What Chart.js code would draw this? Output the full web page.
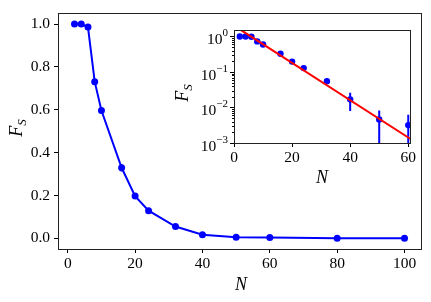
<!DOCTYPE html>
<html lang="en">
<head>
    <meta charset="UTF-8">
    <title>F_S vs N</title>
    <script src="https://cdn.jsdelivr.net/npm/chart.js"></script>
    <style>
        body { margin: 0; background: #fff; }
        .wrap { position: relative; width: 431px; height: 302px; }
        #mainChart { position: absolute; left: 0; top: 0; }
        #insetChart { position: absolute; left: 170px; top: 18px; }
    </style>
</head>
<body>
    <div class="wrap">
        <canvas id="mainChart" width="431" height="302"></canvas>
        <canvas id="insetChart" width="250" height="180"></canvas>
    </div>

    <script>
        // data
        const sizes = [2, 4, 6, 8, 10, 16, 20, 24, 32, 40, 50, 60, 80, 100];
        const fs = [1.0, 1.0, 0.986, 0.731, 0.596, 0.329, 0.197, 0.129, 0.055, 0.017, 0.0046, 0.0032, 0.0006, 0.0002];
        const fsErr = [0, 0, 0.004, 0.008, 0.012, 0.017, 0.008, 0.006, 0.004, 0.009, 0.0036, 0.0031, 0.0004, 0.0001];

        // exponential fit shown in the inset (end points)
        const fitN = [2, 62];
        const fitF = [1.6, 0.00112];

        const xTicks = [0, 20, 40, 60, 80, 100];
        const yTicks = [0, 0.2, 0.4, 0.6, 0.8, 1.0];
        const insetXTicks = [0, 20, 40, 60];
        const insetYTicks = [0.001, 0.01, 0.1, 1];

        const FONT = '"Liberation Serif", serif';
        Chart.defaults.font.family = FONT;
        Chart.defaults.font.size = 15.5;
        Chart.defaults.color = '#000';
        const tickFont = { family: FONT, size: 15.5 };

        function drawLabel(ctx, x, y, main, sub, size, rotate) {
            ctx.save();
            ctx.translate(x, y);
            if (rotate) ctx.rotate(-Math.PI / 2);
            const mf = `italic ${size}px ${FONT}`;
            const sf = `italic ${Math.round(size * 0.7)}px ${FONT}`;
            ctx.font = mf;
            const w1 = ctx.measureText(main).width;
            ctx.font = sf;
            const w2 = sub ? ctx.measureText(sub).width : 0;
            const x0 = -(w1 + w2) / 2;
            const base = size * 0.33;
            ctx.fillStyle = '#000';
            ctx.textBaseline = 'alphabetic';
            ctx.textAlign = 'left';
            ctx.font = mf;
            ctx.fillText(main, x0, base);
            if (sub) {
                ctx.font = sf;
                ctx.fillText(sub, x0 + w1, base + size * 0.22);
            }
            ctx.restore();
        }

        // frame on all four sides, like the original axes
        const framePlugin = {
            id: 'frame',
            afterDraw(chart) {
                const a = chart.chartArea, ctx = chart.ctx;
                ctx.save();
                ctx.strokeStyle = '#222';
                ctx.lineWidth = 1;
                ctx.strokeRect(Math.round(a.left) + 0.5, Math.round(a.top) + 0.5,
                    Math.round(a.right - a.left), Math.round(a.bottom - a.top));
                ctx.restore();
            }
        };

        // vertical error bars from fsErr
        const errorBarPlugin = {
            id: 'errorBars',
            beforeDatasetsDraw(chart) {
                const xs = chart.scales.x, ys = chart.scales.y, ctx = chart.ctx, a = chart.chartArea;
                const isLog = ys.type === 'logarithmic';
                ctx.save();
                ctx.beginPath();
                ctx.rect(a.left, a.top, a.right - a.left, a.bottom - a.top);
                ctx.clip();
                ctx.strokeStyle = '#0000ff';
                ctx.lineWidth = 2;
                sizes.forEach((n, i) => {
                    if (!fsErr[i]) return;
                    const lo = fs[i] - fsErr[i], hi = fs[i] + fsErr[i];
                    const px = xs.getPixelForValue(n);
                    const py1 = ys.getPixelForValue(hi);
                    const py2 = (isLog && lo <= 0) ? a.bottom + 5 : ys.getPixelForValue(lo);
                    ctx.beginPath();
                    ctx.moveTo(px, py1);
                    ctx.lineTo(px, py2);
                    ctx.stroke();
                });
                ctx.restore();
            }
        };

        const mainLabels = {
            id: 'mainLabels',
            afterDraw(chart) {
                drawLabel(chart.ctx, 16, 128, 'F', 'S', 18, true);
                drawLabel(chart.ctx, 241, 284, 'N', '', 18, false);
            }
        };

        const insetLabels = {
            id: 'insetLabels',
            afterDraw(chart) {
                const ctx = chart.ctx, ys = chart.scales.y, a = chart.chartArea;
                // minor log ticks
                ctx.save();
                ctx.strokeStyle = '#000';
                ctx.lineWidth = 1;
                for (let k = -3; k <= 0; k++) {
                    for (let m = 2; m <= 9; m++) {
                        const v = m * Math.pow(10, k);
                        if (v > ys.max) continue;
                        const py = Math.round(ys.getPixelForValue(v)) + 0.5;
                        ctx.beginPath();
                        ctx.moveTo(a.left - 2, py);
                        ctx.lineTo(a.left, py);
                        ctx.stroke();
                    }
                }
                // 10^k labels
                ctx.fillStyle = '#000';
                ctx.textBaseline = 'alphabetic';
                ctx.textAlign = 'left';
                insetYTicks.forEach(v => {
                    const e = Math.round(Math.log10(v));
                    const es = e < 0 ? '\u2212' + (-e) : String(e);
                    const py = ys.getPixelForValue(v);
                    ctx.font = `15.5px ${FONT}`;
                    const w1 = ctx.measureText('10').width;
                    ctx.font = `11px ${FONT}`;
                    const w2 = ctx.measureText(es).width;
                    const right = a.left - 6;
                    ctx.font = `15.5px ${FONT}`;
                    ctx.fillText('10', right - w1 - w2, py + 7.5);
                    ctx.font = `11px ${FONT}`;
                    ctx.fillText(es, right - w2, py - 0.5);
                });
                ctx.restore();
                drawLabel(ctx, 12, 75, 'F', 'S', 18, true);
                drawLabel(ctx, (a.left + a.right) / 2, 159, 'N', '', 18, false);
            }
        };

        const tickGrid = { drawOnChartArea: false, drawTicks: true, tickLength: 4, color: '#000', lineWidth: 1 };

        new Chart(document.getElementById('mainChart'), {
            type: 'line',
            data: {
                datasets: [{
                    data: sizes.map((n, i) => ({ x: n, y: fs[i] })),
                    borderColor: '#0000ff',
                    backgroundColor: '#0000ff',
                    borderWidth: 2,
                    pointRadius: 3.5,
                    pointBorderWidth: 0,
                    tension: 0
                }]
            },
            options: {
                responsive: false,
                devicePixelRatio: 1,
                animation: false,
                layout: { padding: { top: 8, right: 10, left: 0, bottom: 0 } },
                plugins: { legend: { display: false }, tooltip: { enabled: false } },
                scales: {
                    x: {
                        type: 'linear', min: -2.9, max: 104.9,
                        afterBuildTicks: s => { s.ticks = xTicks.map(v => ({ value: v })); },
                        afterFit: s => { s.height = 53; },
                        ticks: { font: tickFont, color: '#000', padding: 2, maxRotation: 0, autoSkip: false },
                        grid: tickGrid,
                        border: { display: false }
                    },
                    y: {
                        type: 'linear', min: -0.05, max: 1.05,
                        afterBuildTicks: s => { s.ticks = yTicks.map(v => ({ value: v })); },
                        afterFit: s => { s.width = 58; },
                        ticks: { font: tickFont, color: '#000', padding: 4, autoSkip: false, callback: v => v.toFixed(1) },
                        grid: tickGrid,
                        border: { display: false }
                    }
                }
            },
            plugins: [errorBarPlugin, framePlugin, mainLabels]
        });

        new Chart(document.getElementById('insetChart'), {
            type: 'line',
            data: {
                datasets: [{
                    data: fitN.map((n, i) => ({ x: n, y: fitF[i] })),
                    borderColor: '#ff0000',
                    borderWidth: 2,
                    pointRadius: 0,
                    tension: 0
                }, {
                    data: sizes.map((n, i) => ({ x: n, y: fs[i] })),
                    showLine: false,
                    backgroundColor: '#0000ff',
                    borderColor: '#0000ff',
                    pointRadius: 3.2,
                    pointBorderWidth: 0
                }]
            },
            options: {
                responsive: false,
                devicePixelRatio: 1,
                animation: false,
                layout: { padding: { top: 8, right: 10, left: 0, bottom: 0 } },
                plugins: { legend: { display: false }, tooltip: { enabled: false } },
                scales: {
                    x: {
                        type: 'linear', min: 0, max: 60.6,
                        afterBuildTicks: s => { s.ticks = insetXTicks.map(v => ({ value: v })); },
                        afterFit: s => { s.height = 55; },
                        ticks: { font: tickFont, color: '#000', padding: 2, maxRotation: 0, autoSkip: false },
                        grid: tickGrid,
                        border: { display: false }
                    },
                    y: {
                        type: 'logarithmic', min: 0.001, max: 1.5,
                        afterBuildTicks: s => { s.ticks = insetYTicks.map(v => ({ value: v })); },
                        afterFit: s => { s.width = 64; },
                        ticks: { callback: () => '', autoSkip: false },
                        grid: tickGrid,
                        border: { display: false }
                    }
                }
            },
            plugins: [errorBarPlugin, framePlugin, insetLabels]
        });
    </script>
</body>
</html>
